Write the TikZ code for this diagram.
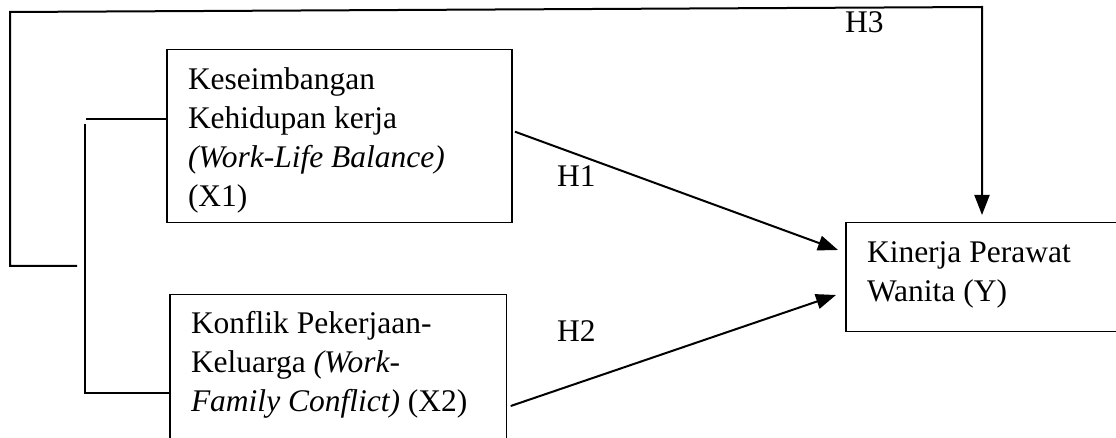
\documentclass[tikz,border=0pt]{standalone}
\usepackage{fontspec}
\setmainfont{Liberation Serif}
\usetikzlibrary{arrows.meta,calc}
\tikzset{
  box/.style={draw=black, line width=1.2pt, inner sep=0pt, outer sep=0pt, rectangle},
  txt/.style={inner sep=0pt, outer sep=0pt, anchor=base west, font=\fontsize{31.5}{39}\selectfont},
  conn/.style={draw=black, line width=2pt},
  arr/.style={conn, -{Triangle[length=20pt,width=15pt]}},
}
\begin{document}
\begin{tikzpicture}[x=1pt,y=-1pt]
\useasboundingbox (0,0) rectangle (1116,438);
\clip (0,0) rectangle (1116,438);
\fill[white] (0,0) rectangle (1116,438);
% boxes
\node[box, minimum width=345pt, minimum height=173.4pt, anchor=north west] (x1) at (167,49.3) {};
\node[box, minimum width=336.7pt, minimum height=160pt, anchor=north west] (x2) at (170,294.3) {};
\node[box, minimum width=300pt, minimum height=109pt, anchor=north west] (y) at (846,222.7) {};
% texts
\node[txt] (x1t) at (188,90) {\begin{tabular}[t]{@{}l@{}}Keseimbangan\\Kehidupan kerja\\\textit{(Work-Life Balance)}\\(X1)\end{tabular}};
\node[txt] (x2t) at (191,333.3) {\begin{tabular}[t]{@{}l@{}}Konflik Pekerjaan-\\Keluarga \textit{(Work-}\\\textit{Family Conflict)} (X2)\end{tabular}};
\node[txt] (yt) at (867,262.7) {\begin{tabular}[t]{@{}l@{}}Kinerja Perawat\\Wanita (Y)\end{tabular}};
% labels
\node[txt] (h1) at (557,186.7) {H1};
\node[txt] (h2) at (557,341) {H2};
\node[txt] (h3) at (845,33) {H3};
% connectors
\draw[arr] ([xshift=3pt,yshift=4.3pt]x1.east) -- ([xshift=-8pt,yshift=27.2pt]y.west);
\draw[arr] ([xshift=4pt,yshift=-111.7pt]x2.north east) -- ([xshift=-10pt,yshift=-17.8pt]y.west);
\coordinate (h3s) at (77,266);
\draw[arr] (h3s) -- (10,266) -- (10,12) -- (982,7) -- ([xshift=136pt,yshift=7.7pt]y.north west);
% bracket
\draw[conn] ([yshift=-70pt]x1.north west) -- (86,119.3);
\draw[conn] (84.5,124) -- (84.5,393.3) -- ([yshift=-99pt]x2.north west);
\end{tikzpicture}
\end{document}
